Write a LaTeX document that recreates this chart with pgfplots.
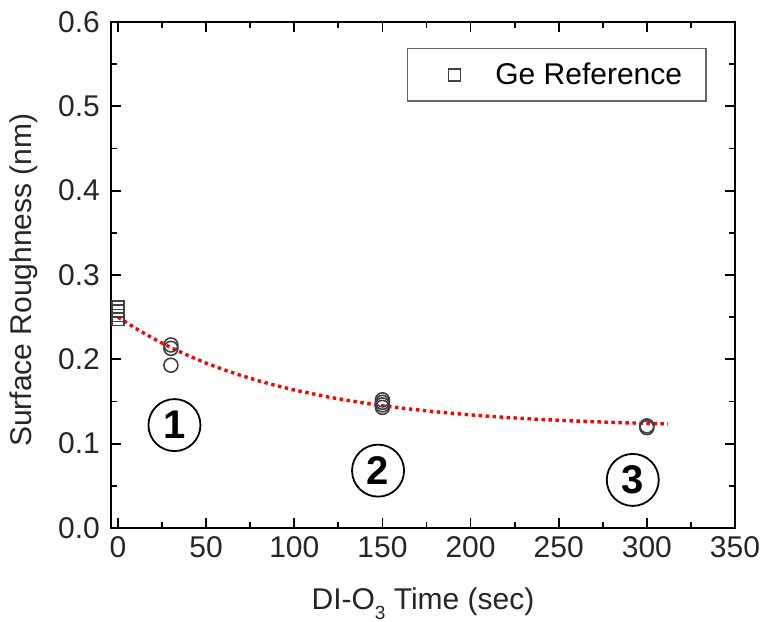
\documentclass[border=0pt]{standalone}
\usepackage{pgfplots}
\pgfplotsset{compat=1.18}
\usepackage{fontspec}
\setmainfont{Liberation Sans}
\begin{document}
\begin{tikzpicture}
\begin{axis}[
  scale only axis,
  width=312pt, height=253pt,
  xmin=-4, xmax=350, ymin=0, ymax=0.6,
  xtick={0,50,...,350}, ytick={0,0.1,...,0.6},
  minor x tick num=1, minor y tick num=1,
  tick align=inside, tick pos=both,
  major tick length=5pt, minor tick length=3pt,
  axis line style={line width=1pt},
  every tick/.style={line width=0.9pt, black},
  /pgf/number format/assume math mode=true,
  /pgf/number format/.cd, fixed, fixed zerofill, precision=1, /pgfplots/.cd,
  ticklabel style={font=\fontsize{15}{17}\selectfont, text=black!85},
  yticklabel style={xshift=-2pt},
  xticklabel style={yshift=-1pt},
  xticklabel={\pgfmathprintnumber[fixed,precision=0]{\tick}},
  xlabel={DI-O\raisebox{-0.6ex}{\fontsize{9.5}{10}\selectfont 3} Time (sec)},
  ylabel={Surface Roughness (nm)},
  label style={font=\fontsize{15}{17}\selectfont, text=black!85},
  xlabel style={at={(rel axis cs:0.5,0)}, anchor=base, yshift=-41pt},
  ylabel style={at={(rel axis cs:0,0.49)}, anchor=center, yshift=43.5pt},
  legend style={at={(rel axis cs:0.955,0.949)}, anchor=north east,
    draw=black!60, line width=0.8pt, font=\fontsize{15}{17}\selectfont,
    inner ysep=5pt, inner xsep=10pt},
  legend image code/.code={%
    \path[draw=none] (12.5pt,0pt) -- (30pt,0pt);
    \draw plot[only marks] coordinates {(26pt,0pt)};},
  legend cell align=left,
]
\addplot[only marks, mark=square, mark size=3pt, black!75, mark options={line width=0.8pt}]
  coordinates {(0,0.262) (0,0.257) (0,0.252) (0,0.247)};
\addlegendentry{\hspace{14.5pt}Ge Reference\hspace{6pt}}
\addplot[forget plot, red, line width=1.7pt, dash pattern=on 1.7pt off 1.8pt]
  coordinates {(0,0.2500) (10,0.2367) (20,0.2247) (30,0.2139) (40,0.2042) (50,0.1955)
  (60,0.1877) (70,0.1807) (80,0.1744) (90,0.1687) (100,0.1636) (120,0.1550)
  (140,0.1480) (160,0.1423) (180,0.1378) (200,0.1341) (220,0.1311) (240,0.1287)
  (260,0.1268) (280,0.1252) (300,0.1240) (312,0.1234)};
\addplot[forget plot, only marks, mark=o, mark size=3.5pt, black!75, mark options={line width=0.8pt}]
  coordinates {(30,0.217) (30,0.213) (30,0.193)
  (150,0.152) (150,0.149) (150,0.146) (150,0.143)
  (300,0.121) (300,0.119)};
\node[circle, draw, line width=0.9pt, minimum size=26pt, inner sep=0pt,
  font=\fontsize{20}{22}\selectfont\bfseries] at (axis cs:32,0.122) {1};
\node[circle, draw, line width=0.9pt, minimum size=26pt, inner sep=0pt,
  font=\fontsize{20}{22}\selectfont\bfseries] at (axis cs:147.5,0.068) {2};
\node[circle, draw, line width=0.9pt, minimum size=26pt, inner sep=0pt,
  font=\fontsize{20}{22}\selectfont\bfseries] at (axis cs:292,0.057) {3};
\coordinate (sw) at (rel axis cs:0,0);
\coordinate (ne) at (rel axis cs:1,1);
\end{axis}
\pgfresetboundingbox
\path ([shift={(-55.5pt,-47pt)}]sw) rectangle ([shift={(13.5pt,11pt)}]ne);
\end{tikzpicture}
\end{document}
